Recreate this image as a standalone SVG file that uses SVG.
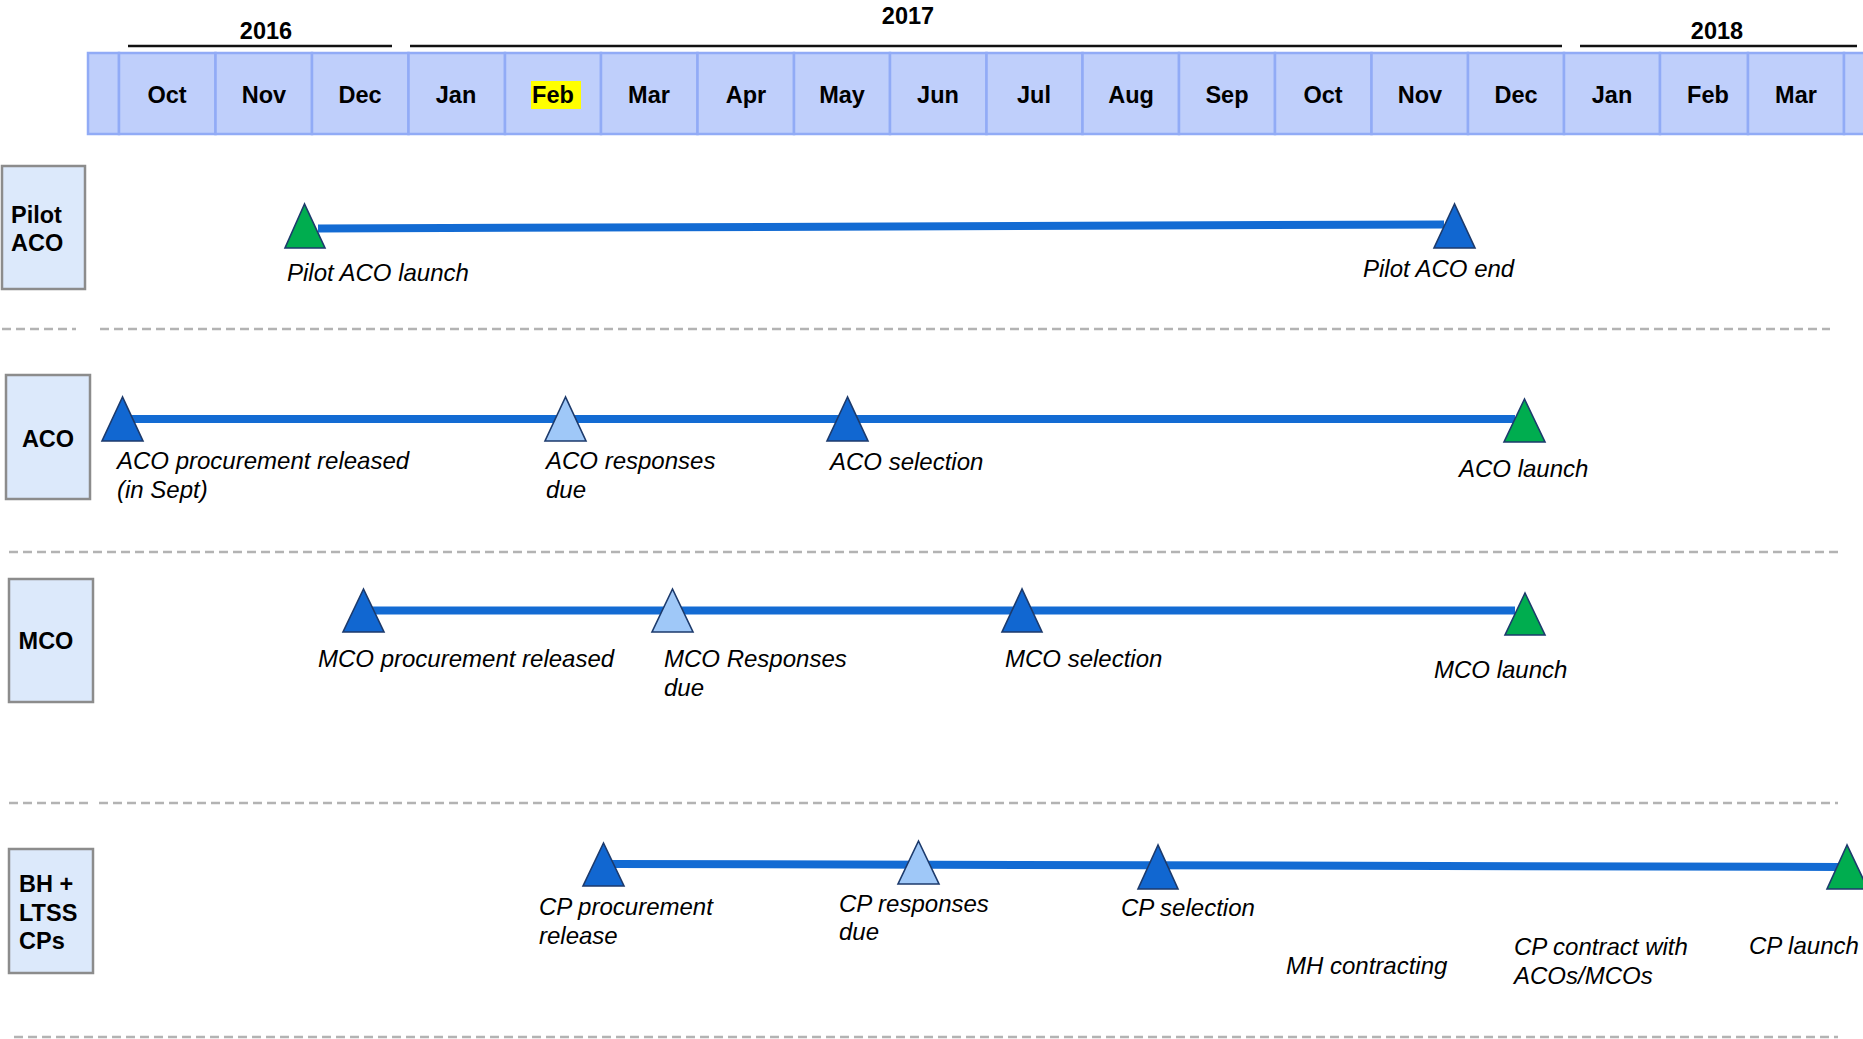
<svg xmlns="http://www.w3.org/2000/svg" width="1863" height="1039" viewBox="0 0 1863 1039">
<style>
.yr{font-family:"Liberation Sans",Arial,sans-serif;font-weight:bold;font-size:23.5px;fill:#000;text-anchor:middle}
.mo{font-family:"Liberation Sans",Arial,sans-serif;font-weight:bold;font-size:23.5px;fill:#000;text-anchor:middle}
.rl{font-family:"Liberation Sans",Arial,sans-serif;font-weight:bold;font-size:23.5px;fill:#000}
.lb{font-family:"Liberation Sans",Arial,sans-serif;font-style:italic;font-size:24px;fill:#000}
.cell{fill:#bfcffb;stroke:#91abf6;stroke-width:2.5}
.box{fill:#dce9fb;stroke:#8c8c8c;stroke-width:2.5}
.yline{stroke:#111;stroke-width:2.5}
.sep{stroke:#b3b3b3;stroke-width:2.5;stroke-dasharray:9 5;fill:none}
.tl{stroke:#136bd3;stroke-width:8;fill:none}
.dk{fill:#1167d1;stroke:#1c3a6c;stroke-width:1.6}
.lt{fill:#9fc8f8;stroke:#1c3a6c;stroke-width:1.6}
.gn{fill:#00ad4f;stroke:#1c3a6c;stroke-width:1.6}
</style>

<g id="years">
<line class="yline" x1="128" y1="46" x2="392" y2="46"/>
<line class="yline" x1="410" y1="46" x2="1562" y2="46"/>
<line class="yline" x1="1580" y1="46" x2="1857" y2="46"/>
<text class="yr" x="266" y="39">2016</text>
<text class="yr" x="908" y="24">2017</text>
<text class="yr" x="1717" y="39">2018</text>
</g>

<g id="months">
<rect class="cell" x="88" y="53" width="31" height="81"/>
<rect class="cell" x="119" y="53" width="96.5" height="81"/>
<rect class="cell" x="215.5" y="53" width="96.5" height="81"/>
<rect class="cell" x="312" y="53" width="96.5" height="81"/>
<rect class="cell" x="408.5" y="53" width="96.5" height="81"/>
<rect class="cell" x="505" y="53" width="96" height="81"/>
<rect class="cell" x="601" y="53" width="96.5" height="81"/>
<rect class="cell" x="697.5" y="53" width="96.5" height="81"/>
<rect class="cell" x="794" y="53" width="96" height="81"/>
<rect class="cell" x="890" y="53" width="96.5" height="81"/>
<rect class="cell" x="986.5" y="53" width="96" height="81"/>
<rect class="cell" x="1082.5" y="53" width="96.5" height="81"/>
<rect class="cell" x="1179" y="53" width="96" height="81"/>
<rect class="cell" x="1275" y="53" width="96.5" height="81"/>
<rect class="cell" x="1371.5" y="53" width="96.5" height="81"/>
<rect class="cell" x="1468" y="53" width="96" height="81"/>
<rect class="cell" x="1564" y="53" width="96" height="81"/>
<rect class="cell" x="1660" y="53" width="88" height="81"/>
<rect class="cell" x="1748" y="53" width="96" height="81"/>
<rect class="cell" x="1844" y="53" width="30" height="81"/>
<rect x="531" y="81" width="50" height="28" fill="#ffff00"/>
<text class="mo" x="167" y="103">Oct</text>
<text class="mo" x="264" y="103">Nov</text>
<text class="mo" x="360" y="103">Dec</text>
<text class="mo" x="456" y="103">Jan</text>
<text class="mo" x="553" y="103">Feb</text>
<text class="mo" x="649" y="103">Mar</text>
<text class="mo" x="746" y="103">Apr</text>
<text class="mo" x="842" y="103">May</text>
<text class="mo" x="938" y="103">Jun</text>
<text class="mo" x="1034" y="103">Jul</text>
<text class="mo" x="1131" y="103">Aug</text>
<text class="mo" x="1227" y="103">Sep</text>
<text class="mo" x="1323" y="103">Oct</text>
<text class="mo" x="1420" y="103">Nov</text>
<text class="mo" x="1516" y="103">Dec</text>
<text class="mo" x="1612" y="103">Jan</text>
<text class="mo" x="1708" y="103">Feb</text>
<text class="mo" x="1796" y="103">Mar</text>
</g>

<g id="separators">
<line class="sep" x1="2" y1="329" x2="76" y2="329"/>
<line class="sep" x1="100" y1="329" x2="1830" y2="329"/>
<line class="sep" x1="9" y1="552" x2="1838" y2="552"/>
<line class="sep" x1="9" y1="803" x2="91" y2="803"/>
<line class="sep" x1="99" y1="803" x2="1838" y2="803"/>
<line class="sep" x1="14" y1="1037" x2="1838" y2="1037"/>
</g>

<g id="row-pilot-aco">
<rect class="box" x="2" y="166" width="83" height="123"/>
<text class="rl" x="11" y="223">Pilot</text>
<text class="rl" x="11" y="251">ACO</text>
</g>
<g id="row-aco">
<rect class="box" x="6" y="375" width="84" height="124"/>
<text class="rl" x="48" y="447" text-anchor="middle">ACO</text>
</g>
<g id="row-mco">
<rect class="box" x="9" y="579" width="84" height="123"/>
<text class="rl" x="46" y="649" text-anchor="middle">MCO</text>
</g>
<g id="row-cps">
<rect class="box" x="9" y="849" width="84" height="124"/>
<text class="rl" x="19" y="892">BH +</text>
<text class="rl" x="19" y="921">LTSS</text>
<text class="rl" x="19" y="949">CPs</text>
</g>

<g id="connectors">
<line class="tl" x1="318" y1="228.5" x2="1444" y2="224.5"/>
<line class="tl" x1="130" y1="419" x2="1515" y2="419"/>
<line class="tl" x1="370" y1="610.5" x2="1515" y2="610.5"/>
<line class="tl" x1="612" y1="864" x2="1840" y2="867"/>
</g>

<g id="pilot-aco-launch">
<polygon class="gn" points="304.5,204 285,248 325,248"/>
<text class="lb" x="287" y="281">Pilot ACO launch</text>
</g>
<g id="pilot-aco-end">
<polygon class="dk" points="1454.5,204 1434,248 1475,248"/>
<text class="lb" x="1363" y="277">Pilot ACO end</text>
</g>

<g id="aco-procurement">
<polygon class="dk" points="122.5,397 102,441 143,441"/>
<text class="lb" x="117" y="469">ACO procurement released</text>
<text class="lb" x="117" y="498">(in Sept)</text>
</g>
<g id="aco-responses">
<polygon class="lt" points="565.5,397 545,441 586,441"/>
<text class="lb" x="546" y="469">ACO responses</text>
<text class="lb" x="546" y="498">due</text>
</g>
<g id="aco-selection">
<polygon class="dk" points="847.5,397 827,441 868,441"/>
<text class="lb" x="830" y="470">ACO selection</text>
</g>
<g id="aco-launch">
<polygon class="gn" points="1524.5,399 1504,442 1545,442"/>
<text class="lb" x="1459" y="477">ACO launch</text>
</g>

<g id="mco-procurement">
<polygon class="dk" points="363.5,589 343,632 384,632"/>
<text class="lb" x="318" y="667">MCO procurement released</text>
</g>
<g id="mco-responses">
<polygon class="lt" points="672.5,589 652,632 693,632"/>
<text class="lb" x="664" y="667">MCO Responses</text>
<text class="lb" x="664" y="696">due</text>
</g>
<g id="mco-selection">
<polygon class="dk" points="1022,589 1002,632 1042,632"/>
<text class="lb" x="1005" y="667">MCO selection</text>
</g>
<g id="mco-launch">
<polygon class="gn" points="1525,593 1505,635 1545,635"/>
<text class="lb" x="1434" y="678">MCO launch</text>
</g>

<g id="cp-procurement">
<polygon class="dk" points="603.5,843 583,886 624,886"/>
<text class="lb" x="539" y="915">CP procurement</text>
<text class="lb" x="539" y="944">release</text>
</g>
<g id="cp-responses">
<polygon class="lt" points="918.5,841 898,884 939,884"/>
<text class="lb" x="839" y="912">CP responses</text>
<text class="lb" x="839" y="940">due</text>
</g>
<g id="cp-selection">
<polygon class="dk" points="1158,845 1138,889 1178,889"/>
<text class="lb" x="1121" y="916">CP selection</text>
</g>
<g id="mh-contracting">
<text class="lb" x="1286" y="974">MH contracting</text>
</g>
<g id="cp-contract">
<text class="lb" x="1514" y="955">CP contract with</text>
<text class="lb" x="1514" y="984">ACOs/MCOs</text>
</g>
<g id="cp-launch">
<polygon class="gn" points="1847,845 1827,889 1868,889"/>
<text class="lb" x="1749" y="954">CP launch</text>
</g>
</svg>
